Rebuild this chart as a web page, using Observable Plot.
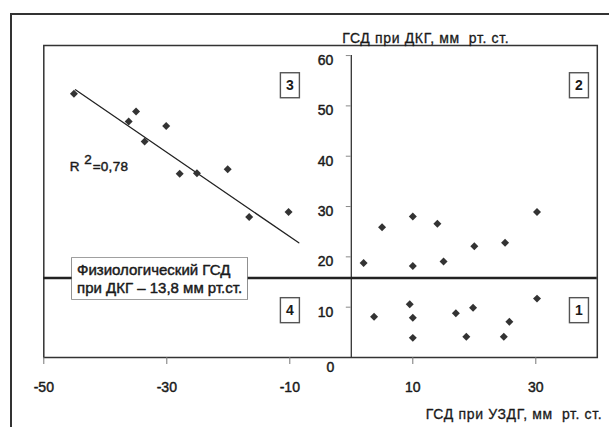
<!DOCTYPE html>
<html><head><meta charset="utf-8">
<script src="https://cdn.jsdelivr.net/npm/d3@7"></script>
<script src="https://cdn.jsdelivr.net/npm/@observablehq/plot@0.6"></script>
<style>
html,body{margin:0;padding:0;background:#fff;}
#wrap{position:relative;width:609px;height:427px;overflow:hidden;}
#outer{position:absolute;left:10px;top:13px;width:660px;height:480px;border:2px solid #333;box-sizing:border-box;}
#chart{position:absolute;left:0;top:0;}
.ttl text{letter-spacing:0.65px;}
.r2 text{letter-spacing:0.3px;}
</style></head><body><div id="wrap"><div id="outer"></div><div id="chart"></div></div>
<script>
// ГСД при УЗДГ (x) и ГСД при ДКГ (y), мм рт. ст.
const uzdg = [-45.1, -35.0, -36.2, -30.1, -33.6, -27.9, -25.1, -20.1, -16.6, -10.2,
              2, 5, 10, 10, 14, 15, 20, 25, 30.2,
              3.7, 9.5, 10, 10, 17, 19.8, 18.7, 25.7, 24.8, 30.2];
const dkg  = [52.4, 48.9, 46.9, 46.0, 42.9, 36.5, 36.6, 37.4, 27.9, 28.9,
              18.8, 25.9, 28.0, 18.2, 26.6, 19.1, 22.1, 22.8, 28.9,
              8.1, 10.6, 7.9, 3.9, 8.8, 9.9, 4.1, 7.1, 4.1, 11.7];
const xTicks = [-50, -30, -10, 10, 30];
const yTicks = [0, 10, 20, 30, 40, 50, 60];
const trendX = [-44.85, -8.54];
const trendY = [53.2, 22.8];
const thresholdY = 15.8;
const thresholdText = "Физиологический ГСД\nпри ДКГ – 13,8 мм рт.ст.";
const thresholdTextX = -44.6;
const quadrantNames = ["1", "2", "3", "4"];
const quadrantX = [37, 37, -10, -10];
const quadrantY = [9.3, 54, 54, 9.3];
const r2Value = "=0,78";
const r2X = -45.8, r2Y = 37.9;
const yTitle = "ГСД при ДКГ, мм  рт. ст.";
const xTitle = "ГСД при УЗДГ, мм  рт. ст.";

const points = uzdg.map((x, i) => ({x, y: dkg[i]}));
const trend = trendX.map((x, i) => ({x, y: trendY[i]}));
const quads = quadrantNames.map((t, i) => ({t, x: quadrantX[i], y: quadrantY[i]}));
const font = "'Liberation Sans', Arial, sans-serif";
const ink = "#1a1a1a";
const heavy = {fill: ink, stroke: ink, strokeWidth: 0.45};

const chart = Plot.plot({
  width: 609, height: 427,
  marginLeft: 43.3, marginRight: 12.2, marginTop: 45, marginBottom: 70,
  style: {fontFamily: font, fontSize: "14px", color: ink, background: "transparent"},
  x: {domain: [-50, 40], label: null, axis: null},
  y: {domain: [0, 62], axis: null},
  marks: [
    Plot.frame({stroke: "#333", strokeWidth: 1.5}),
    Plot.ruleX(xTicks, {x: d => d, y1: 0, y2: 0, insetBottom: -7, stroke: "#777"}),
    Plot.text(xTicks, {x: d => d, frameAnchor: "bottom", text: d => String(d), dy: 34, fontSize: 14, ...heavy}),
    Plot.ruleX([0], {y1: 0, y2: 60, stroke: "#333", strokeWidth: 1.3}),
    Plot.ruleY(yTicks.filter(d => d > 0), {y: d => d, x1: 0, x2: 0, insetLeft: -5, stroke: "#888"}),
    Plot.text(yTicks.filter(d => d > 0), {x: 0, y: d => d, text: d => String(d), textAnchor: "end", dx: -18, dy: 5, fontSize: 14, ...heavy}),
    Plot.text([0], {x: 0, y: d => d, text: d => String(d), textAnchor: "end", dx: -17, dy: 10, fontSize: 14, ...heavy}),
    Plot.ruleY([thresholdY], {stroke: "#222", strokeWidth: 2.5}),
    Plot.line(trend, {x: "x", y: "y", stroke: "#222", strokeWidth: 1.3}),
    Plot.dot(points, {x: "x", y: "y", symbol: "diamond2", r: 3.6, fill: "#333", stroke: "none"}),
    Plot.text([thresholdText], {x: thresholdTextX, y: thresholdY, text: d => d, textAnchor: "start", lineHeight: 1.25, fontSize: 15, ...heavy, className: "boxed"}),
    Plot.text(quads, {x: "x", y: "y", text: "t", fontSize: 14, fontWeight: "bold", fill: ink, className: "boxedq"}),
    Plot.text([r2Value], {x: r2X, y: r2Y, text: () => "R", textAnchor: "start", fontSize: 13.5, ...heavy}),
    Plot.text([r2Value], {x: r2X, y: r2Y, text: () => "2", textAnchor: "start", dx: 14.5, dy: -7, fontSize: 13.5, ...heavy}),
    Plot.text([r2Value], {x: r2X, y: r2Y, text: d => d, textAnchor: "start", dx: 23, fontSize: 13.5, ...heavy, className: "r2"}),
    Plot.text([yTitle], {x: 0, frameAnchor: "top", text: d => d, textAnchor: "start", dx: -9, dy: -12.5, fontSize: 14, ...heavy, strokeWidth: 0.3, className: "ttl"}),
    Plot.text([xTitle], {x: 40, frameAnchor: "bottom", text: d => d, textAnchor: "end", dx: 5, dy: 61, fontSize: 14, ...heavy, strokeWidth: 0.3, className: "ttl"})
  ]
});
document.getElementById("chart").append(chart);

function boxIt(sel, padX, padY, stroke) {
  chart.querySelectorAll(sel + " text").forEach(t => {
    const bb = t.getBBox();
    const r = document.createElementNS("http://www.w3.org/2000/svg", "rect");
    r.setAttribute("x", bb.x - padX);
    r.setAttribute("y", bb.y - padY);
    r.setAttribute("width", bb.width + 2 * padX);
    r.setAttribute("height", bb.height + 2 * padY);
    const tr = t.getAttribute("transform");
    if (tr) r.setAttribute("transform", tr);
    r.setAttribute("fill", "#fff");
    r.setAttribute("stroke", stroke);
    r.setAttribute("stroke-width", "1.4");
    t.parentNode.insertBefore(r, t);
  });
}
boxIt(".boxed", 5, 3, "#666");
boxIt(".boxedq", 5.5, 4.5, "#555");
</script>
</body></html>
